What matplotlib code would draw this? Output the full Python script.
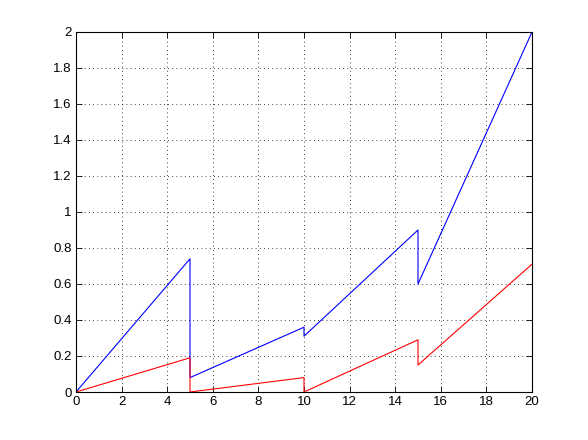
import matplotlib
matplotlib.use("Agg")
import matplotlib.pyplot as plt

blue_x = [0, 5, 5, 10, 10, 15, 15, 20]
blue_y = [0, 0.74, 0.08, 0.36, 0.31, 0.90, 0.60, 2.0]
red_x = [0, 5, 5, 10, 10, 15, 15, 20]
red_y = [0, 0.19, 0.0, 0.08, 0.0, 0.29, 0.15, 0.71]
x_ticks = list(range(0, 21, 2))
y_ticks = [0, 0.2, 0.4, 0.6, 0.8, 1, 1.2, 1.4, 1.6, 1.8, 2]
y_labels = ["0", "0.2", "0.4", "0.6", "0.8", "1", "1.2", "1.4", "1.6", "1.8", "2"]

plt.rcParams['font.family'] = ['Liberation Sans', 'DejaVu Sans']
fig = plt.figure(figsize=(5.88, 4.4), dpi=100)
fig.patch.set_facecolor('white')
ax = fig.add_axes([76/588, 48/440, (532-76)/588, (392-32)/440])
ax.plot(blue_x, blue_y, color='#0000ff', lw=0.8)
ax.plot(red_x, red_y, color='#ff0000', lw=0.8)
ax.set_xlim(0, 20)
ax.set_ylim(0, 2)
ax.set_xticks(x_ticks)
ax.set_yticks(y_ticks)
ax.set_yticklabels(y_labels)
ax.grid(True, color='black', linestyle=(0, (1, 4)), linewidth=0.6)
ax.tick_params(direction='in', length=4, width=0.6, top=True, right=True,
               labelsize=9.5, pad=3)
for s in ax.spines.values():
    s.set_linewidth(0.8)
fig.savefig('out.png', dpi=100)
